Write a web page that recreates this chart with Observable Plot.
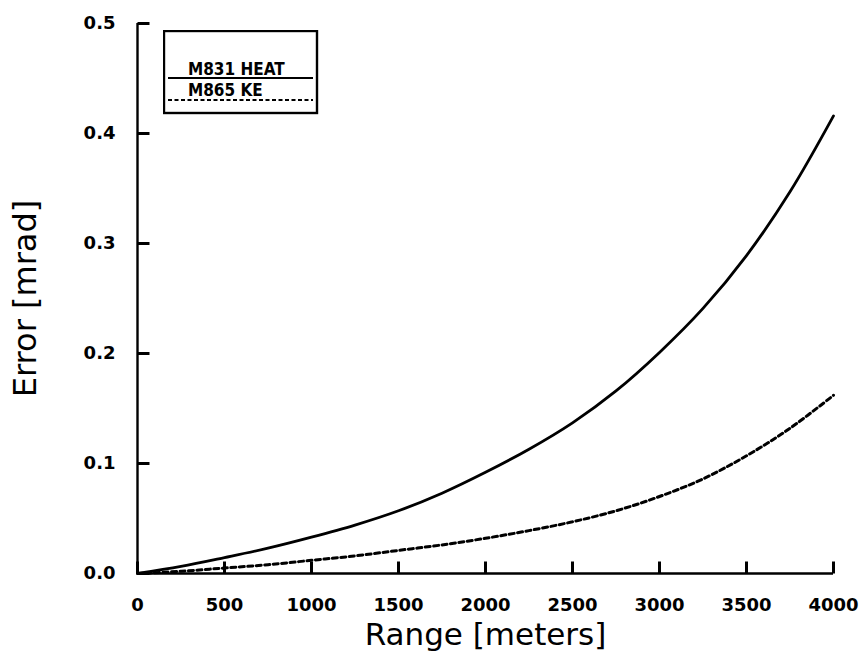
<!DOCTYPE html>
<html>
<head>
<meta charset="utf-8">
<script src="https://cdn.jsdelivr.net/npm/d3@7"></script>
<script src="https://cdn.jsdelivr.net/npm/@observablehq/plot@0.6"></script>
<style>
  html, body { margin: 0; padding: 0; background: #fff; }
  #wrap { position: relative; width: 868px; height: 658px; }
  #legend { position: absolute; left: 163px; top: 30px; }
</style>
</head>
<body>
<div id="wrap"></div>
<script>
const range = [0, 250, 500, 750, 1000, 1250, 1500, 1750, 2000, 2250, 2500, 2750, 3000, 3250, 3500, 3750, 4000];
const heatError = [0, 0.0065, 0.0145, 0.023, 0.033, 0.044, 0.057, 0.073, 0.092, 0.113, 0.137, 0.166, 0.201, 0.241, 0.289, 0.347, 0.416];
const keError = [0, 0.002, 0.005, 0.008, 0.012, 0.016, 0.021, 0.026, 0.032, 0.039, 0.047, 0.057, 0.070, 0.086, 0.107, 0.132, 0.162];
const seriesNames = ["M831 HEAT", "M865 KE"];
const xTicks = [0, 500, 1000, 1500, 2000, 2500, 3000, 3500, 4000];
const yTicks = [0, 0.1, 0.2, 0.3, 0.4, 0.5];

const heat = range.map((r, i) => ({range: r, error: heatError[i]}));
const ke = range.map((r, i) => ({range: r, error: keError[i]}));

const font = "DejaVu Sans, sans-serif";

const W = 868, H = 658, mL = 137, mR = 35, mT = 23, mB = 85;
const xDomain = [0, 4000], yDomain = [0, 0.5];
// inward tick length (12px) expressed in data units of each scale
const tickPx = 12;
const xTickLen = tickPx * (xDomain[1] - xDomain[0]) / (W - mL - mR);
const yTickLen = tickPx * (yDomain[1] - yDomain[0]) / (H - mT - mB);

const plot = Plot.plot({
  width: W,
  height: H,
  marginLeft: mL,
  marginRight: mR,
  marginTop: mT,
  marginBottom: mB,
  style: {fontFamily: font, background: "#fff", color: "#000"},
  x: {domain: xDomain},
  y: {domain: yDomain},
  marks: [
    Plot.axisX({ticks: xTicks, tickSize: 0, tickPadding: 25, tickFormat: d => String(d),
      fontSize: 18, fontWeight: "bold", label: null}),
    Plot.axisY({ticks: yTicks, tickSize: 0, tickPadding: 22, tickFormat: d => d.toFixed(1),
      fontSize: 18, fontWeight: "bold", label: null}),
    Plot.ruleX([0], {stroke: "#000", strokeWidth: 2.4}),
    Plot.ruleY([0], {stroke: "#000", strokeWidth: 2.4}),
    // inward ticks
    Plot.link(xTicks, {x1: d => d, x2: d => d, y1: d => 0, y2: d => yTickLen, stroke: "#000", strokeWidth: 3}),
    Plot.link(yTicks, {y1: d => d, y2: d => d, x1: d => 0, x2: d => xTickLen, stroke: "#000", strokeWidth: 3}),
    Plot.line(heat, {x: "range", y: "error", stroke: "#000", strokeWidth: 2.8, curve: "catmull-rom"}),
    Plot.line(ke, {x: "range", y: "error", stroke: "#000", strokeWidth: 3, strokeDasharray: "5,3.5", curve: "catmull-rom"}),
    Plot.text(["Range [meters]"], {frameAnchor: "bottom", lineAnchor: "middle", dy: 62, fontSize: 31, fill: "#000"}),
    Plot.text(["Error [mrad]"], {frameAnchor: "left", textAnchor: "middle", lineAnchor: "middle", dx: -112, rotate: -90, fontSize: 32, fill: "#000"})
  ]
});
document.getElementById("wrap").appendChild(plot);

// Legend box
const lg = d3.select("#wrap").append("svg")
  .attr("id", "legend").attr("width", 156).attr("height", 86);
lg.append("rect").attr("x", 1).attr("y", 1).attr("width", 153).attr("height", 82)
  .attr("fill", "#fff").attr("stroke", "#000").attr("stroke-width", 2.4);
const rows = [{name: seriesNames[0], dash: null, ty: 45, ly: 48}, {name: seriesNames[1], dash: "4,2.5", ty: 66, ly: 70}];
rows.forEach(r => {
  lg.append("text").attr("x", 25).attr("y", r.ty).attr("text-anchor", "start")
    .attr("font-family", "DejaVu Sans Condensed, DejaVu Sans, sans-serif").attr("font-weight", "bold")
    .attr("font-size", 17).text(r.name);
  lg.append("line").attr("x1", 5).attr("x2", 150).attr("y1", r.ly).attr("y2", r.ly)
    .attr("stroke", "#000").attr("stroke-width", 2)
    .attr("stroke-dasharray", r.dash);
});
</script>
</body>
</html>
